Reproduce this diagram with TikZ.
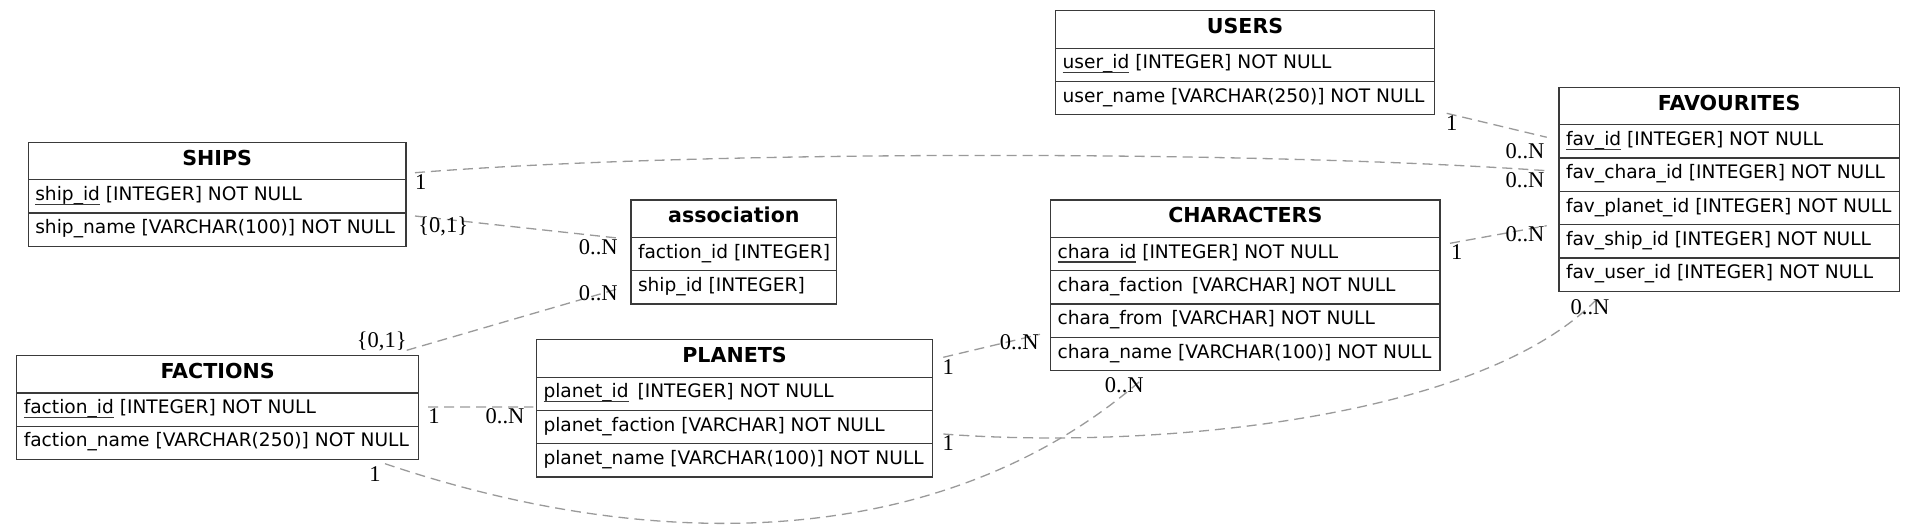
\documentclass[tikz,border=0pt]{standalone}
\usepackage{fontspec}
\setmainfont{DejaVu Sans}
\newfontfamily\lblfont{Liberation Serif}
\usetikzlibrary{calc}
\definecolor{boxc}{HTML}{3A3A3A}
\definecolor{edgec}{HTML}{9A9A9A}
\newsavebox\pkbox
\newcommand\pk[1]{\sbox\pkbox{#1}\rlap{\usebox\pkbox}{\color{boxc}\rule[-0.24em]{\wd\pkbox}{0.065em}}}
\newcommand\rowtxt[2]{\hbox to #1pt{\hskip7pt #2\hss}}
\tikzset{
  tbase/.style={draw=boxc, line width=1.3pt, outer sep=0pt, inner sep=0pt, anchor=north west},
  etitle/.style={tbase, minimum height=37.5pt, text height=14pt, text depth=6pt,
    font=\fontsize{20.6}{24}\selectfont\bfseries},
  erow/.style={tbase, minimum height=33.3pt, text height=13pt, text depth=5pt,
    font=\fontsize{18.6}{22}\selectfont},
  rel/.style={draw=edgec, line width=1.3pt, dash pattern=on 10pt off 6pt},
  card/.style={font=\lblfont\fontsize{22.5}{26}\selectfont, inner sep=0pt,
    text height=15pt, text depth=0pt, anchor=center}
}
\begin{document}
\begin{tikzpicture}[x=1pt,y=-1pt]
\fill[white] (0,0) rectangle (1915,527);
\useasboundingbox (0,0) rectangle (1915,527);

% USERS
\node[etitle, minimum width=378.9pt] (users) at (1055.6,10.7) {USERS};
\node[erow] (users1) at (users.south west) {\rowtxt{378.9}{\pk{user\_id} [INTEGER] NOT NULL}};
\node[erow] (users2) at (users1.south west) {\rowtxt{378.9}{user\_name [VARCHAR(250)] NOT NULL}};

% FAVOURITES
\node[etitle, minimum width=340.3pt] (fav) at (1559,87.3) {FAVOURITES};
\node[erow] (fav1) at (fav.south west) {\rowtxt{340.3}{\pk{fav\_id} [INTEGER] NOT NULL}};
\node[erow] (fav2) at (fav1.south west) {\rowtxt{340.3}{fav\_chara\_id [INTEGER] NOT NULL}};
\node[erow] (fav3) at (fav2.south west) {\rowtxt{340.3}{fav\_planet\_id [INTEGER] NOT NULL}};
\node[erow] (fav4) at (fav3.south west) {\rowtxt{340.3}{fav\_ship\_id [INTEGER] NOT NULL}};
\node[erow] (fav5) at (fav4.south west) {\rowtxt{340.3}{fav\_user\_id [INTEGER] NOT NULL}};

% SHIPS
\node[etitle, minimum width=377.7pt] (ships) at (28.3,142.3) {SHIPS};
\node[erow] (ships1) at (ships.south west) {\rowtxt{377.7}{\pk{ship\_id} [INTEGER] NOT NULL}};
\node[erow] (ships2) at (ships1.south west) {\rowtxt{377.7}{ship\_name [VARCHAR(100)] NOT NULL}};

% association
\node[etitle, minimum width=205.7pt] (assoc) at (631,200) {association};
\node[erow] (assoc1) at (assoc.south west) {\rowtxt{205.7}{faction\_id [INTEGER]}};
\node[erow] (assoc2) at (assoc1.south west) {\rowtxt{205.7}{ship\_id [INTEGER]}};

% CHARACTERS
\node[etitle, minimum width=389.4pt] (chars) at (1050.6,200) {CHARACTERS};
\node[erow] (chars1) at (chars.south west) {\rowtxt{389.4}{\pk{chara\_id} [INTEGER] NOT NULL}};
\node[erow] (chars2) at (chars1.south west) {\rowtxt{389.4}{chara\_faction\hspace{3pt} [VARCHAR] NOT NULL}};
\node[erow] (chars3) at (chars2.south west) {\rowtxt{389.4}{chara\_from\hspace{3pt} [VARCHAR] NOT NULL}};
\node[erow] (chars4) at (chars3.south west) {\rowtxt{389.4}{chara\_name [VARCHAR(100)] NOT NULL}};

% FACTIONS
\node[etitle, minimum width=401.5pt] (fact) at (16.8,355.5) {FACTIONS};
\node[erow] (fact1) at (fact.south west) {\rowtxt{401.5}{\pk{faction\_id} [INTEGER] NOT NULL}};
\node[erow] (fact2) at (fact1.south west) {\rowtxt{401.5}{faction\_name [VARCHAR(250)] NOT NULL}};

% PLANETS
\node[etitle, minimum width=396.1pt] (planets) at (536.5,339.7) {PLANETS};
\node[erow] (planets1) at (planets.south west) {\rowtxt{396.1}{\pk{planet\_id}\hspace{3pt} [INTEGER] NOT NULL}};
\node[erow] (planets2) at (planets1.south west) {\rowtxt{396.1}{planet\_faction [VARCHAR] NOT NULL}};
\node[erow] (planets3) at (planets2.south west) {\rowtxt{396.1}{planet\_name [VARCHAR(100)] NOT NULL}};

% E1 USERS - FAVOURITES
\coordinate (e1a) at ($(users2.south east)+(12.2,-1.5)$);
\coordinate (e1b) at ($(fav1.west)+(-12.3,-4.2)$);
\draw[rel] (e1a) -- (e1b);
\node[card] (c1a) at ($(e1a)+(5,10)$) {1};
\node[card] (c1b) at ($(e1b)+(-21.7,13.4)$) {0..N};

% E2 SHIPS - FAVOURITES
\coordinate (e2a) at ($(ships.south east)+(9,-7.1)$);
\coordinate (e2b) at ($(fav2.north west)+(-12.3,12.6)$);
\draw[rel] (e2a) .. controls (700,150) and (1250,150) .. (e2b);
\node[card] (c2a) at ($(e2a)+(5.7,9)$) {1};
\node[card] (c2b) at ($(e2b)+(-21.7,9.3)$) {0..N};

% E3 SHIPS - association
\coordinate (e3a) at ($(ships2.north east)+(9,2.9)$);
\coordinate (e3b) at ($(assoc1.north west)+(-11,0.8)$);
\draw[rel] (e3a) -- (e3b);
\node[card] (c3a) at ($(e3a)+(28.3,9)$) {\{0,1\}};
\node[card] (c3b) at ($(e3b)+(-21.7,9)$) {0..N};

% E4 FACTIONS - association
\coordinate (e4a) at ($(fact.north east)+(-11.6,-5.2)$);
\coordinate (e4b) at ($(assoc2.west)+(-11,0.8)$);
\draw[rel] (e4a) -- (e4b);
\node[card] (c4a) at ($(e4a)+(-25,-10)$) {\{0,1\}};
\node[card] (c4b) at ($(e4b)+(-21.7,5)$) {0..N};

% E5 FACTIONS - PLANETS
\coordinate (e5a) at ($(fact1.east)+(9.7,-2.6)$);
\coordinate (e5b) at ($(planets1.south west)+(-3.2,-3.5)$);
\draw[rel] (e5a) -- (e5b);
\node[card] (c5a) at ($(e5a)+(6,9.3)$) {1};
\node[card] (c5b) at ($(e5b)+(-28.3,9.3)$) {0..N};

% E6 FACTIONS - CHARACTERS
\coordinate (e6a) at ($(fact2.south east)+(-33.3,4.1)$);
\coordinate (e6b) at ($(chars4.south west)+(92.7,7.6)$);
\draw[rel] (e6a) .. controls +(300,101) and +(-182,160) .. (e6b);
\node[card] (c6a) at ($(e6a)+(-10,10)$) {1};
\node[card] (c6b) at ($(e6b)+(-19,6.7)$) {0..N};

% E7 PLANETS - CHARACTERS
\coordinate (e7a) at ($(planets.south east)+(10.7,-19.9)$);
\coordinate (e7b) at ($(chars4.north west)+(-10.6,-3.1)$);
\draw[rel] (e7a) -- (e7b);
\node[card] (c7a) at ($(e7a)+(5,10)$) {1};
\node[card] (c7b) at ($(e7b)+(-20.7,7.4)$) {0..N};

% E8 PLANETS - FAVOURITES
\coordinate (e8a) at ($(planets2.south east)+(10.7,-9.8)$);
\coordinate (e8b) at ($(fav5.south west)+(38,7.7)$);
\draw[rel] (e8a) .. controls +(206.7,16) and +(-117,121) .. (e8b);
\node[card] (c8a) at ($(e8a)+(5,9.3)$) {1};
\node[card] (c8b) at ($(e8b)+(-7,7.7)$) {0..N};

% E9 CHARACTERS - FAVOURITES
\coordinate (e9a) at ($(chars1.north east)+(10,5.8)$);
\coordinate (e9b) at ($(fav4.north west)+(-12.3,1)$);
\draw[rel] (e9a) -- (e9b);
\node[card] (c9a) at ($(e9a)+(6.7,8.4)$) {1};
\node[card] (c9b) at ($(e9b)+(-21.7,8.3)$) {0..N};
\end{tikzpicture}
\end{document}
